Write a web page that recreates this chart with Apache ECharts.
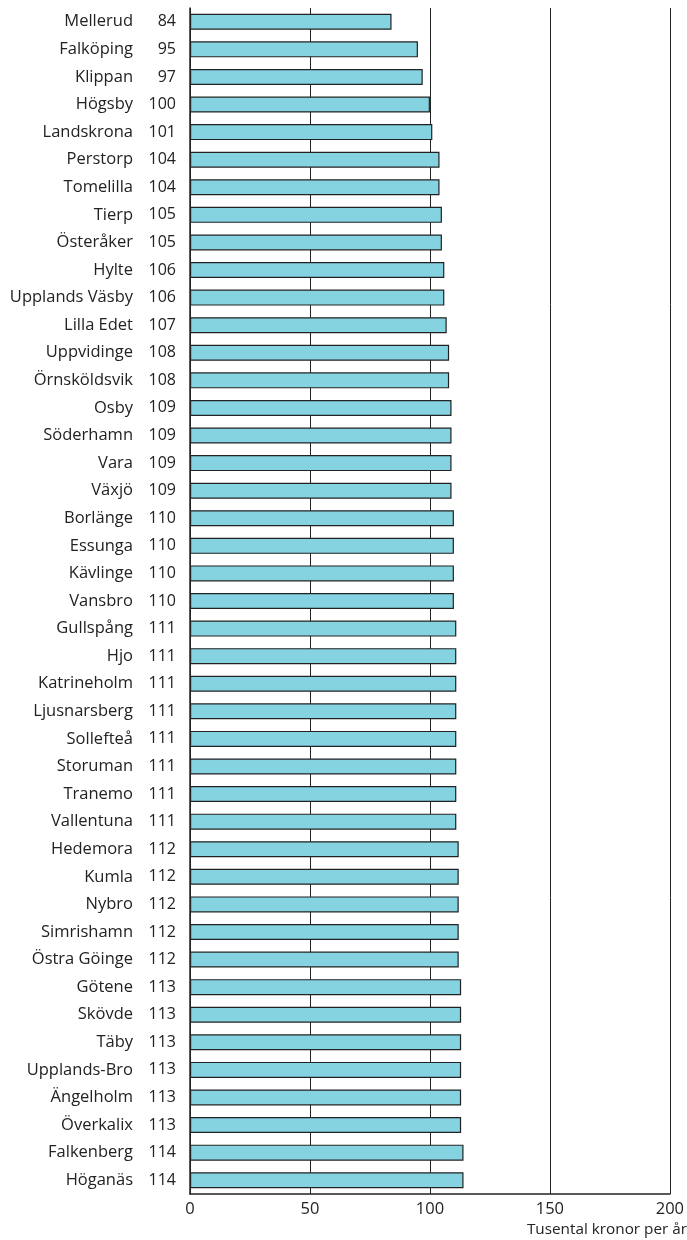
<!DOCTYPE html>
<html><head><meta charset="utf-8">
<script src="https://cdn.jsdelivr.net/npm/echarts@6/dist/echarts.min.js"></script>
<style>html,body{margin:0;padding:0;background:#fff}#c{width:687px;height:1240px}</style>
</head><body><div id="c"></div>
<script>
const categories = ["Mellerud","Falköping","Klippan","Högsby","Landskrona","Perstorp","Tomelilla","Tierp","Österåker","Hylte","Upplands Väsby","Lilla Edet","Uppvidinge","Örnsköldsvik","Osby","Söderhamn","Vara","Växjö","Borlänge","Essunga","Kävlinge","Vansbro","Gullspång","Hjo","Katrineholm","Ljusnarsberg","Sollefteå","Storuman","Tranemo","Vallentuna","Hedemora","Kumla","Nybro","Simrishamn","Östra Göinge","Götene","Skövde","Täby","Upplands-Bro","Ängelholm","Överkalix","Falkenberg","Höganäs"];
const values = [84,95,97,100,101,104,104,105,105,106,106,107,108,108,109,109,109,109,110,110,110,110,111,111,111,111,111,111,111,111,112,112,112,112,112,113,113,113,113,113,113,114,114];
const xTicks = [0,50,100,150,200];
const axisName = "Tusental kronor per år";
const FONT = "Open Sans";
const chart = echarts.init(document.getElementById('c'));
chart.setOption({
  animation:false,
  grid:{left:190,right:17,top:8,bottom:46,containLabel:false},
  xAxis:{type:'value',min:xTicks[0],max:xTicks[xTicks.length-1],interval:50,
    axisLine:{show:true,lineStyle:{color:'#222',width:1.5}},
    axisTick:{show:false},
    splitLine:{show:true,lineStyle:{color:'#222',width:1}},
    axisLabel:{fontFamily:FONT,fontSize:16.5,color:'#222',margin:7}},
  yAxis:{type:'category',inverse:true,data:categories,
    axisLine:{show:true,lineStyle:{color:'#222',width:1.5}},
    axisTick:{show:false},
    axisLabel:{margin:14,color:'#222',fontFamily:FONT,fontSize:16,
      formatter:(v,i)=>'{n|'+v+'}{v|'+values[i]+'}',
      rich:{n:{fontFamily:FONT,fontSize:16.5,color:'#222',align:'right'},
            v:{fontFamily:FONT,fontSize:16,color:'#222',width:43,align:'right'}}}},
  graphic:[{type:'text',right:0,top:1222,
    style:{text:axisName,fontFamily:FONT,fontSize:15.3,fill:'#222'}}],
  series:[{type:'bar',data:values,barWidth:'58%',
    itemStyle:{color:'#85d3e0',borderColor:'#222',borderWidth:1.2}}]
});
</script></body></html>
